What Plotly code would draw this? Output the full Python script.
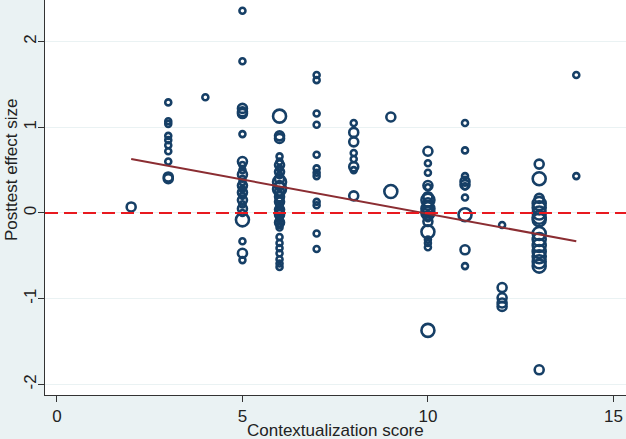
import plotly.graph_objects as go

# contextualization score, effect size, weight class (1 small, 2 medium, 3 large)
score = []
effect = []
weight = []

def add(x, pts):
    for y, w in pts:
        score.append(x)
        effect.append(y)
        weight.append(w)

col2 = [(0.07, 2)]
col3 = [(1.29, 1), (1.07, 1), (1.04, 1), (0.90, 1), (0.85, 1), (0.79, 1), (0.72, 1), (0.60, 1), (0.42, 2), (0.40, 2)]
col4 = [(1.35, 1)]
col5 = [(2.36, 1), (1.77, 1), (1.22, 2), (1.18, 2), (1.16, 2), (0.92, 1), (0.60, 2), (0.56, 1), (0.50, 1), (0.45, 2),
        (0.40, 1), (0.36, 1), (0.32, 2), (0.28, 1), (0.24, 2), (0.20, 1), (0.15, 2), (0.10, 1), (0.05, 2), (0.00, 1),
        (-0.08, 3), (-0.33, 1), (-0.47, 2), (-0.55, 1)]
col6 = [(1.13, 3), (0.90, 2), (0.87, 2), (0.66, 1), (0.60, 1), (0.56, 2), (0.52, 1), (0.48, 2), (0.44, 1), (0.40, 2),
        (0.36, 3), (0.32, 2), (0.28, 3), (0.25, 2), (0.22, 1), (0.19, 2), (0.16, 1), (0.13, 2), (0.10, 1), (0.07, 1),
        (0.04, 2), (0.01, 1), (-0.02, 2), (-0.05, 1), (-0.08, 1), (-0.11, 2), (-0.14, 1), (-0.17, 1), (-0.28, 1),
        (-0.35, 1), (-0.41, 1), (-0.47, 1), (-0.54, 1), (-0.59, 1), (-0.63, 1)]
col7 = [(1.61, 1), (1.55, 1), (1.16, 1), (1.03, 1), (0.68, 1), (0.52, 1), (0.47, 1), (0.43, 1), (0.13, 1), (0.09, 1),
        (-0.24, 1), (-0.42, 1)]
col8 = [(1.05, 1), (0.94, 2), (0.83, 2), (0.70, 1), (0.63, 1), (0.54, 2), (0.50, 1), (0.20, 2)]
col9 = [(1.12, 2), (0.25, 3)]
col10 = [(0.72, 2), (0.58, 1), (0.47, 1), (0.32, 2), (0.30, 1), (0.19, 2), (0.15, 3), (0.12, 2), (0.09, 2), (0.05, 3),
         (0.02, 2), (0.00, 3), (-0.03, 2), (-0.06, 1), (-0.10, 2), (-0.22, 3), (-0.31, 1), (-0.35, 1), (-0.40, 1),
         (-1.37, 3)]
col11 = [(1.05, 1), (0.73, 1), (0.43, 1), (0.37, 2), (0.33, 2), (0.31, 1), (0.18, 1), (-0.02, 3), (-0.43, 2), (-0.62, 1)]
col12 = [(-0.14, 1), (-0.87, 2), (-0.99, 2), (-1.05, 2), (-1.09, 2)]
col13 = [(0.57, 2), (0.40, 3), (0.17, 2), (0.11, 3), (0.06, 3), (0.00, 3), (-0.05, 3), (-0.08, 3), (-0.24, 3),
         (-0.31, 3), (-0.38, 3), (-0.45, 3), (-0.51, 3), (-0.57, 3), (-0.62, 3), (-1.83, 2)]
col14 = [(1.61, 1), (0.43, 1)]

for x, c in [(2, col2), (3, col3), (4, col4), (5, col5), (6, col6), (7, col7), (8, col8), (9, col9),
             (10, col10), (11, col11), (12, col12), (13, col13), (14, col14)]:
    add(x, c)

# fitted line parameters
fit_intercept = 0.79
fit_slope = -0.08
fit_x = [2, 14]
fit_y = [fit_intercept + fit_slope * v for v in fit_x]

x_ticks = [0, 5, 10, 15]
y_ticks = [-2, -1, 0, 1, 2]

size_map = {1: 6, 2: 9, 3: 13}
sizes = [size_map[w] for w in weight]

navy = "#163f66"
fig = go.Figure()
fig.add_trace(go.Scatter(x=score, y=effect, mode="markers",
                         marker=dict(symbol="circle-open", size=sizes, color=navy, opacity=1,
                                     line=dict(width=2.6, color=navy)),
                         showlegend=False, hoverinfo="skip"))
fig.add_trace(go.Scatter(x=fit_x, y=fit_y, mode="lines",
                         line=dict(color="#8b2d32", width=2), showlegend=False))
fig.add_hline(y=0, line=dict(color="#e8191f", width=2, dash="13px,6px"))

font = "Liberation Sans, Arial, sans-serif"
fs = 17
fig.update_layout(
    width=626, height=439,
    margin=dict(l=45, r=0, t=0, b=44),
    paper_bgcolor="#eaf2f3", plot_bgcolor="white",
    font=dict(family=font, size=fs, color="#222"),
    xaxis=dict(range=[-0.323, 15.34], tickvals=x_ticks, ticks="outside", ticklen=6,
               tickcolor="#333", showgrid=False, zeroline=False, showline=True, linecolor="#333",
               linewidth=1, automargin=False, tickfont=dict(size=fs)),
    yaxis=dict(range=[-2.124, 2.485], tickvals=y_ticks, ticktext=[str(v) for v in y_ticks],
               ticks="outside", ticklen=6, tickcolor="#333", tickangle=-90, ticklabelstandoff=-5,
               showgrid=True, gridcolor="#eaf2f3", gridwidth=1, zeroline=False,
               showline=True, linecolor="#333", linewidth=1, automargin=False,
               tickfont=dict(size=fs)),
    annotations=[
        dict(text="Contextualization score", xref="paper", yref="paper", x=0.5,
             y=-35 / 395, xanchor="center", yanchor="middle", showarrow=False, font=dict(size=fs)),
        dict(text="Posttest effect size", xref="paper", yref="paper", x=-33 / 581, y=(395 - 170) / 395,
             xanchor="center", yanchor="middle", textangle=-90, showarrow=False, font=dict(size=fs)),
    ],
)
fig.write_html("out.html", config={"displayModeBar": False},
               post_script="document.body.style.margin='0';document.body.style.overflow='hidden';")
